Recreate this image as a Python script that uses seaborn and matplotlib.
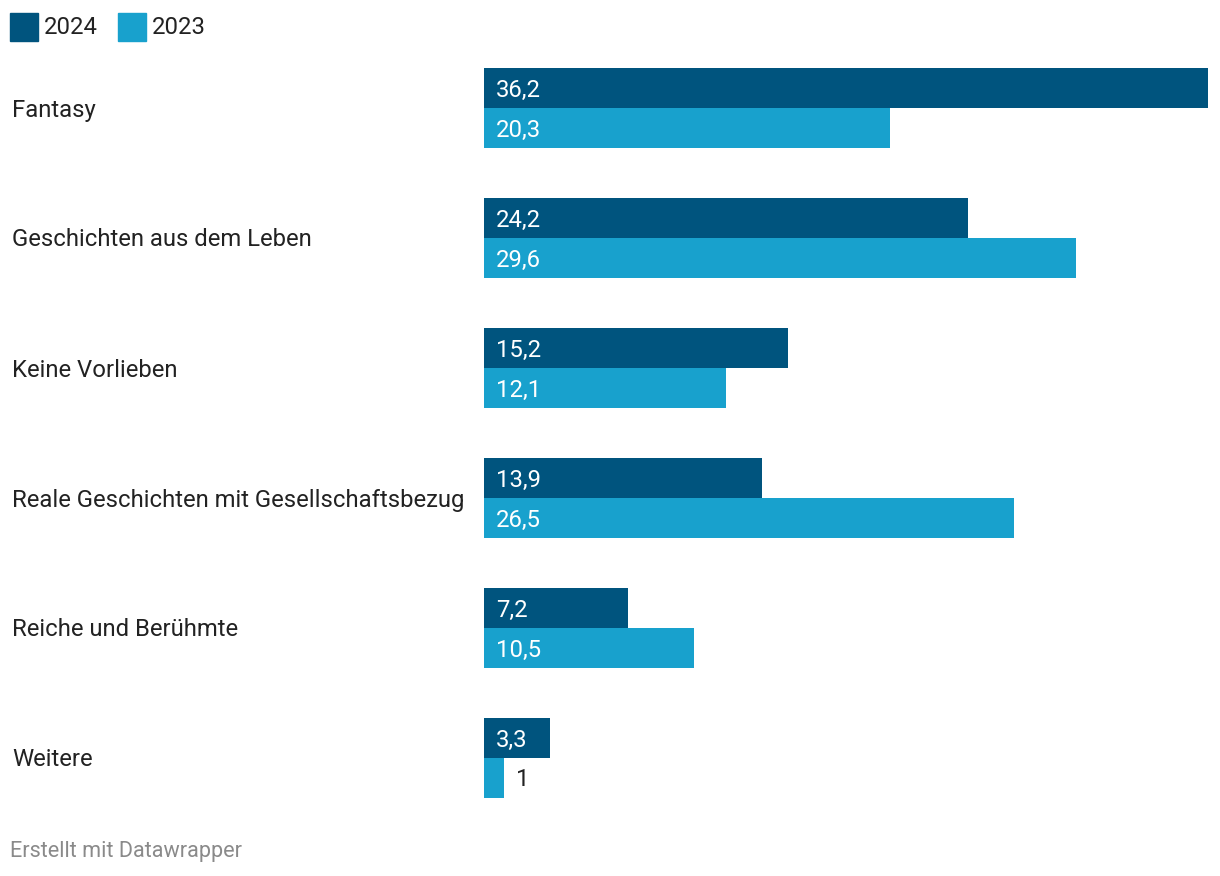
import pandas as pd
import matplotlib.pyplot as plt
import seaborn as sns
from matplotlib.patches import Rectangle

# data
categories = ['Fantasy', 'Geschichten aus dem Leben', 'Keine Vorlieben',
              'Reale Geschichten mit Gesellschaftsbezug', 'Reiche und Berühmte', 'Weitere']
values_2024 = [36.2, 24.2, 15.2, 13.9, 7.2, 3.3]
values_2023 = [20.3, 29.6, 12.1, 26.5, 10.5, 1.0]
years = ['2024', '2023']
colors = ['#00547e', '#18a1cd']

df = pd.DataFrame({
    'Kategorie': categories * 2,
    'Jahr': [years[0]] * len(categories) + [years[1]] * len(categories),
    'Wert': values_2024 + values_2023,
})

sns.set_style('white')
plt.rcParams['font.family'] = ['Roboto', 'DejaVu Sans']

W, H = 1220, 876
FS = 17.2
fig = plt.figure(figsize=(W / 100, H / 100), dpi=100)
ax = fig.add_axes([484 / W, 1 - 798 / H, (1208 - 484) / W, (798 - 68) / H])

sns.barplot(data=df, y='Kategorie', x='Wert', hue='Jahr', order=categories,
            hue_order=years, palette=colors, width=80 / 130, dodge=True,
            saturation=1, ax=ax, legend=False, linewidth=0)

ax.set_xlim(0, 36.2)
half = 40 / 130
ax.set_ylim(len(categories) - 1 + half, -half)
ax.axis('off')

# value labels (nudged ~2px down to match)
dy = 2 / 130
for cont in ax.containers:
    for bar in cont:
        v = bar.get_width()
        y = bar.get_y() + bar.get_height() / 2 + dy
        txt = f'{v:.1f}'.replace('.', ',') if v != int(v) else str(int(v))
        if v > 2:
            ax.text(0.6, y, txt, color='white', fontsize=FS, va='center', ha='left')
        else:
            ax.text(v + 0.6, y, txt, color='#222222', fontsize=FS, va='center', ha='left')

# category labels on the left
for i, cat in enumerate(categories):
    yf = 1 - (110 + 130 * i) / H
    fig.text(12 / W, yf, cat, fontsize=FS, color='#222222', va='center', ha='left')

# legend
for j, (yr, c) in enumerate(zip(years, colors)):
    x0 = 10 + 108 * j
    fig.patches.append(Rectangle((x0 / W, 1 - 41 / H), 28 / W, 28 / H,
                                 transform=fig.transFigure, color=c))
    fig.text((x0 + 34) / W, 1 - 28 / H, yr, fontsize=FS, color='#222222',
             va='center', ha='left')

fig.text(10 / W, 1 - 852 / H, 'Erstellt mit Datawrapper', fontsize=15.6,
         color='#8a8a8a', va='center', ha='left')

fig.savefig('out.png', dpi=100)
